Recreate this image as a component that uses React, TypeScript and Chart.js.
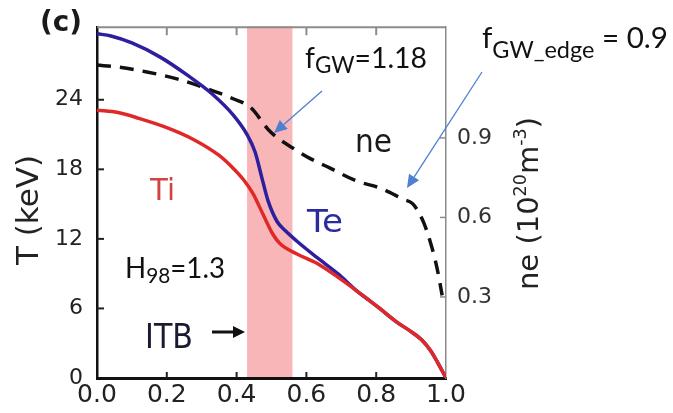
import React, { useEffect, useRef } from "react";
import { Chart, registerables } from "chart.js";

Chart.register(...registerables);

// ---- data (normalized radius rho) ----
const teRho = [0.0, 0.04, 0.1, 0.18, 0.26, 0.33, 0.39, 0.43, 0.453, 0.473, 0.49, 0.516, 0.54, 0.573, 0.63, 0.69, 0.745, 0.78, 0.81, 0.86, 0.9, 0.93, 0.955, 0.975, 1.0];
const teKeV = [29.7, 29.5, 28.9, 27.7, 26.1, 24.5, 22.7, 21.0, 19.5, 17.2, 15.3, 13.5, 12.7, 11.8, 10.4, 9.0, 7.5, 6.7, 6.0, 4.8, 4.0, 3.3, 2.4, 1.4, 0.0];

const tiRho = [0.0, 0.06, 0.12, 0.2, 0.275, 0.35, 0.39, 0.42, 0.447, 0.476, 0.504, 0.524, 0.573, 0.63, 0.69, 0.745, 0.78, 0.81, 0.86, 0.9, 0.93, 0.955, 0.975, 1.0];
const tiKeV = [23.1, 22.9, 22.4, 21.6, 20.6, 19.2, 18.1, 17.1, 15.9, 14.1, 12.4, 11.6, 10.7, 9.9, 8.7, 7.5, 6.7, 6.0, 4.8, 4.0, 3.3, 2.4, 1.4, 0.0];

const neRho = [0.0, 0.057, 0.143, 0.229, 0.315, 0.39, 0.44, 0.496, 0.562, 0.61, 0.668, 0.745, 0.811, 0.877, 0.905, 0.934, 0.954, 0.974, 0.989];
const neVals = [1.175, 1.168, 1.149, 1.123, 1.086, 1.048, 1.015, 0.924, 0.861, 0.823, 0.786, 0.737, 0.711, 0.669, 0.651, 0.587, 0.512, 0.411, 0.306];

const xTicks = [0.0, 0.2, 0.4, 0.6, 0.8, 1.0];
const tTicks = [0, 6, 12, 18, 24];
const neTicks = [0.3, 0.6, 0.9];
const itbBand = [0.43, 0.56];

type Part = { t: string; size: number; dy?: number; weight?: string };

function drawRich(
  ctx: CanvasRenderingContext2D,
  parts: Part[],
  family: string,
  x: number,
  y: number,
  width: number,
  color: string,
  rotate = 0
) {
  ctx.save();
  ctx.fillStyle = color;
  ctx.textAlign = "left";
  ctx.textBaseline = "alphabetic";
  const widths = parts.map((p) => {
    ctx.font = `${p.weight || "normal"} ${p.size}px ${family}`;
    return ctx.measureText(p.t).width;
  });
  const total = widths.reduce((a, b) => a + b, 0);
  ctx.translate(x, y);
  if (rotate) ctx.rotate(rotate);
  ctx.scale(width / total, 1);
  let cx = 0;
  parts.forEach((p, i) => {
    ctx.font = `${p.weight || "normal"} ${p.size}px ${family}`;
    ctx.fillText(p.t, cx, p.dy || 0);
    cx += widths[i];
  });
  ctx.restore();
}

function arrow(
  ctx: CanvasRenderingContext2D,
  x0: number,
  y0: number,
  x1: number,
  y1: number,
  color: string,
  lw: number,
  headLen: number,
  headHalf: number
) {
  const a = Math.atan2(y1 - y0, x1 - x0);
  const bx = x1 - Math.cos(a) * headLen;
  const by = y1 - Math.sin(a) * headLen;
  ctx.save();
  ctx.strokeStyle = color;
  ctx.fillStyle = color;
  ctx.lineWidth = lw;
  ctx.beginPath();
  ctx.moveTo(x0, y0);
  ctx.lineTo(bx, by);
  ctx.stroke();
  ctx.beginPath();
  ctx.moveTo(x1, y1);
  ctx.lineTo(bx + Math.sin(a) * headHalf, by - Math.cos(a) * headHalf);
  ctx.lineTo(bx - Math.sin(a) * headHalf, by + Math.cos(a) * headHalf);
  ctx.closePath();
  ctx.fill();
  ctx.restore();
}

const decorPlugin = {
  id: "decor",
  beforeDraw(chart: any) {
    const { ctx, chartArea, scales } = chart;
    ctx.save();
    ctx.fillStyle = "#ffffff";
    ctx.fillRect(0, 0, chart.width, chart.height);
    const x0 = scales.x.getPixelForValue(itbBand[0]);
    const x1 = scales.x.getPixelForValue(itbBand[1]);
    ctx.fillStyle = "rgba(248,182,184,1)";
    ctx.fillRect(x0, chartArea.top - 1, x1 - x0, chartArea.bottom - chartArea.top + 1);
    ctx.restore();
  },
  afterDraw(chart: any) {
    const { ctx, chartArea, scales } = chart;
    const { left, right, top, bottom } = chartArea;
    ctx.save();
    // top frame line
    ctx.strokeStyle = "#8c8c8c";
    ctx.lineWidth = 2;
    ctx.beginPath();
    ctx.moveTo(left, top);
    ctx.lineTo(right, top);
    ctx.stroke();
    // inward tick marks
    ctx.lineWidth = 2;
    scales.x.ticks.forEach((t: any) => {
      if (t.value <= 0 || t.value >= 1) return;
      const px = scales.x.getPixelForValue(t.value);
      ctx.strokeStyle = "#222";
      ctx.beginPath();
      ctx.moveTo(px, bottom);
      ctx.lineTo(px, bottom - 6);
      ctx.stroke();
      ctx.strokeStyle = "#8c8c8c";
      ctx.beginPath();
      ctx.moveTo(px, top);
      ctx.lineTo(px, top + 8);
      ctx.stroke();
    });
    scales.y.ticks.forEach((t: any) => {
      if (t.value <= 0) return;
      const py = scales.y.getPixelForValue(t.value);
      ctx.strokeStyle = "#222";
      ctx.beginPath();
      ctx.moveTo(left, py);
      ctx.lineTo(left + 7, py);
      ctx.stroke();
    });
    scales.y1.ticks.forEach((t: any) => {
      const py = scales.y1.getPixelForValue(t.value);
      ctx.strokeStyle = "#8c8c8c";
      ctx.lineWidth = 1.5;
      ctx.beginPath();
      ctx.moveTo(right, py);
      ctx.lineTo(right - 6, py);
      ctx.stroke();
    });
    ctx.restore();

    const DV = "'DejaVu Sans'";
    const GF = "Lato, 'Noto Sans', sans-serif";
    // panel label
    drawRich(ctx, [{ t: "(c)", size: 28, weight: "bold" }], DV, 40, 31, 42, "#1a1a1a");
    // axis titles
    drawRich(ctx, [{ t: "T (keV)", size: 30 }], DV, 38, 265, 110, "#222", -Math.PI / 2);
    drawRich(
      ctx,
      [
        { t: "ne (10", size: 28 },
        { t: "20", size: 17, dy: -12 },
        { t: "m", size: 28 },
        { t: "-3", size: 17, dy: -12 },
        { t: ")", size: 28 },
      ],
      DV,
      538,
      290,
      173,
      "#222",
      -Math.PI / 2
    );
    // curve labels
    drawRich(ctx, [{ t: "Ti", size: 30 }], DV, 150, 200, 25, "#d04444");
    drawRich(ctx, [{ t: "Te", size: 32 }], DV, 307, 232, 36, "#2b2b9c");
    drawRich(ctx, [{ t: "ne", size: 32 }], DV, 355, 152, 37, "#1a1a1a");
    drawRich(ctx, [{ t: "ITB", size: 34 }], DV, 145, 348, 48, "#1b1b30");
    arrow(ctx, 212, 332, 245, 332, "#111", 3, 12, 6);
    // PowerPoint-style annotations
    drawRich(
      ctx,
      [
        { t: "f", size: 29 },
        { t: "GW", size: 23, dy: 5 },
        { t: "=1.18", size: 29 },
      ],
      GF,
      305,
      68,
      122,
      "#111"
    );
    drawRich(
      ctx,
      [
        { t: "f", size: 29 },
        { t: "GW_edge", size: 23, dy: 10 },
        { t: " = 0.9", size: 29 },
      ],
      GF,
      482,
      48,
      186,
      "#111"
    );
    drawRich(
      ctx,
      [
        { t: "H", size: 28 },
        { t: "98", size: 21, dy: 5 },
        { t: "=1.3", size: 28 },
      ],
      GF,
      125,
      278,
      100,
      "#111"
    );
    arrow(ctx, 322, 91, 274, 133, "#4f7fd0", 1.3, 13, 6);
    arrow(ctx, 482, 72, 407, 188, "#4f7fd0", 1.3, 13, 6);
  },
};

export default function App() {
  const ref = useRef<HTMLCanvasElement | null>(null);

  useEffect(() => {
    if (!ref.current) return;
    const chart = new Chart(ref.current, {
      type: "line",
      data: {
        datasets: [
          {
            label: "Ti",
            data: tiRho.map((r, i) => ({ x: r, y: tiKeV[i] })),
            borderColor: "#e02828",
            borderWidth: 3.5,
            pointRadius: 0,
            cubicInterpolationMode: "monotone",
            yAxisID: "y",
          },
          {
            label: "Te",
            data: teRho.map((r, i) => ({ x: r, y: teKeV[i] })),
            borderColor: "#2e1f9e",
            borderWidth: 3.5,
            pointRadius: 0,
            cubicInterpolationMode: "monotone",
            yAxisID: "y",
          },
          {
            label: "ne",
            data: neRho.map((r, i) => ({ x: r, y: neVals[i] })),
            borderColor: "#111111",
            borderWidth: 3.5,
            borderDash: [14, 9],
            pointRadius: 0,
            cubicInterpolationMode: "monotone",
            yAxisID: "y1",
          },
        ],
      },
      options: {
        animation: false,
        responsive: false,
        devicePixelRatio: 1,
        layout: { padding: { top: 25, left: 0, right: 0, bottom: 0 } },
        plugins: {
          legend: { display: false },
          tooltip: { enabled: false },
        },
        scales: {
          x: {
            type: "linear",
            min: 0,
            max: 1,
            afterBuildTicks: (s: any) => {
              s.ticks = xTicks.map((v) => ({ value: v }));
            },
            afterFit: (s: any) => {
              s.height = 35;
            },
            ticks: {
              callback: (v: any) => Number(v).toFixed(1),
              font: { family: "'DejaVu Sans'", size: 25 },
              color: "#222",
              padding: 2,
              maxRotation: 0,
              autoSkip: false,
            },
            grid: { display: false, drawTicks: false },
            border: { display: true, color: "#111", width: 3 },
          },
          y: {
            type: "linear",
            position: "left",
            min: 0,
            max: 30.26,
            afterBuildTicks: (s: any) => {
              s.ticks = tTicks.map((v) => ({ value: v }));
            },
            afterFit: (s: any) => {
              s.width = 97;
            },
            ticks: {
              font: { family: "'DejaVu Sans'", size: 22 },
              color: "#222",
              padding: 14,
            },
            grid: { display: false, drawTicks: false },
            border: { display: true, color: "#111", width: 2.5 },
          },
          y1: {
            type: "linear",
            position: "right",
            min: -0.006,
            max: 1.318,
            afterBuildTicks: (s: any) => {
              s.ticks = neTicks.map((v) => ({ value: v }));
            },
            afterFit: (s: any) => {
              s.width = 227;
            },
            ticks: {
              callback: (v: any) => Number(v).toFixed(1),
              font: { family: "'DejaVu Sans'", size: 22 },
              color: "#333",
              padding: 11,
            },
            grid: { display: false, drawTicks: false },
            border: { display: true, color: "#8a8a8a", width: 1.5 },
          },
        },
      },
      plugins: [decorPlugin],
    } as any);
    return () => chart.destroy();
  }, []);

  return (
    <div style={{ position: "fixed", left: 0, top: 0, width: 673, height: 413, background: "#fff" }}>
      <canvas ref={ref} width={673} height={413} style={{ display: "block", width: 673, height: 413 }} />
    </div>
  );
}
